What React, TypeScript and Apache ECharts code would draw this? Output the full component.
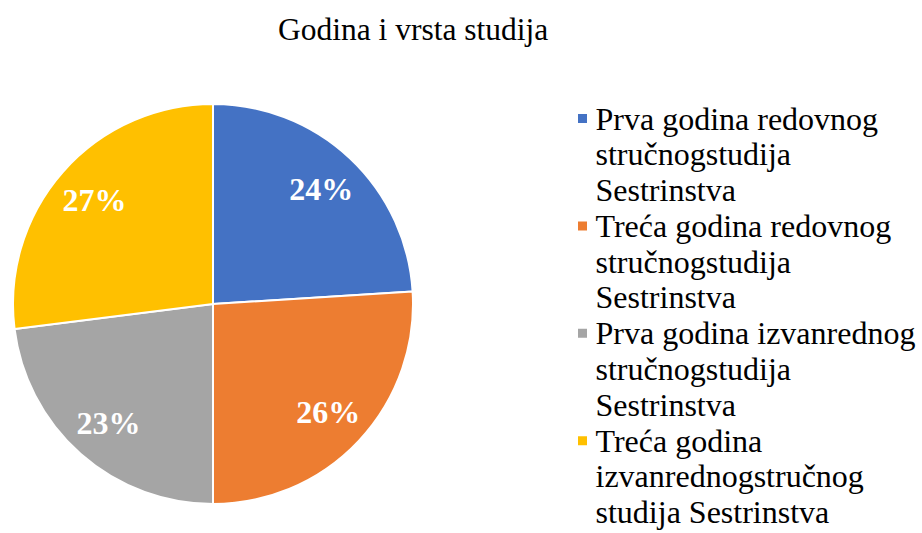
import React, { useEffect, useRef } from "react";
import * as echarts from "echarts";

const titleText = "Godina i vrsta studija";
const categories = [
  "Prva godina redovnog\nstručnogstudija\nSestrinstva",
  "Treća godina redovnog\nstručnogstudija\nSestrinstva",
  "Prva godina izvanrednog\nstručnogstudija\nSestrinstva",
  "Treća godina\nizvanrednogstručnog\nstudija Sestrinstva",
];
const values = [24, 26, 23, 27];
const colors = ["#4472C4", "#ED7D31", "#A5A5A5", "#FFC000"];

const FONT = "'Liberation Serif', 'Times New Roman', serif";

export default function App() {
  const ref = useRef<HTMLDivElement>(null);
  useEffect(() => {
    document.body.style.margin = "0";
    if (!ref.current) return;
    const chart = echarts.init(ref.current, undefined, { renderer: "svg" });
    const data = categories.map((name, i) => ({ name, value: values[i] }));
    const LH = 35.8;
    chart.setOption({
      animation: false,
      color: colors,
      textStyle: { fontFamily: FONT },
      title: {
        text: titleText,
        left: 273,
        top: 8,
        textStyle: { fontFamily: FONT, fontSize: 31.5, fontWeight: "normal", color: "#000" },
      },
      legend: {
        orient: "vertical",
        left: 576,
        top: 29,
        height: 520,
        padding: 0,
        itemWidth: 16,
        itemHeight: 11,
        itemGap: -2 * LH,
        icon: "path://M0,0h10v10h-10z",
        data: categories,
        formatter: (name: string) => "\n\n" + name,
        textStyle: {
          fontFamily: FONT,
          fontSize: 32,
          color: "#000",
          lineHeight: LH,
        },
      },
      series: [
        {
          type: "pie",
          center: [213, 304],
          radius: [0, 200],
          startAngle: 90,
          clockwise: true,
          data,
          itemStyle: { borderColor: "#fff", borderWidth: 2 },
          label: { show: false },
          labelLine: { show: false },
          emphasis: { disabled: true },
        },
        {
          type: "pie",
          center: [213, 304],
          radius: [110, 200],
          startAngle: 90,
          clockwise: true,
          silent: true,
          data,
          itemStyle: { color: "rgba(0,0,0,0)", borderWidth: 0 },
          label: {
            show: true,
            position: "inside",
            formatter: (p: any) => `${p.value}%`,
            color: "#fff",
            fontFamily: FONT,
            fontWeight: "bold",
            fontSize: 32,
          },
          labelLine: { show: false },
          emphasis: { disabled: true },
        },
      ],
    });
    return () => chart.dispose();
  }, []);
  return <div ref={ref} style={{ width: 922, height: 533 }} />;
}
